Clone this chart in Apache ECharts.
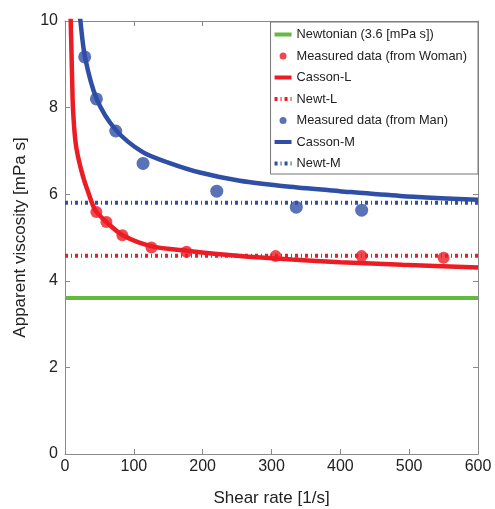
<!DOCTYPE html>
<html>
<head>
<meta charset="utf-8">
<script src="https://cdn.jsdelivr.net/npm/echarts@6/dist/echarts.min.js"></script>
<style>html,body{margin:0;padding:0;background:#fff}#c{width:495px;height:509px}</style>
</head>
<body>
<div id="c"></div>
<script>
// ---- data ----
const xTicks = [0, 100, 200, 300, 400, 500, 600];
const yTicks = [0, 2, 4, 6, 8, 10];

const newtonianValue = 3.6;
const newtLValue = 4.58;
const newtMValue = 5.8;

const womanShear = [45.6, 60.2, 83.4, 125.6, 176.5, 306, 431, 550];
const womanVisc  = [5.59, 5.36, 5.05, 4.77, 4.67, 4.57, 4.57, 4.53];

const manShear = [28.6, 45.6, 73.7, 113.4, 220.5, 336, 431];
const manVisc  = [9.17, 8.2, 7.46, 6.71, 6.07, 5.70, 5.63];

const cassonLShear = [7.5, 8.3, 9.3, 10.2, 11.6, 15, 19, 26, 33, 44, 60, 84, 125, 180, 250, 330, 400, 490, 600];
const cassonLVisc  = [10.6, 10.0, 9.37, 8.76, 7.98, 7.24, 6.86, 6.42, 6.08, 5.63, 5.36, 5.05, 4.80, 4.69, 4.58, 4.49, 4.43, 4.37, 4.31];

const cassonMShear = [20, 22.4, 29, 46, 74, 113, 150, 196, 254, 327, 399, 487, 600];
const cassonMVisc  = [10.4, 10.0, 9.17, 8.2, 7.48, 6.97, 6.73, 6.5, 6.31, 6.17, 6.07, 5.96, 5.87];

// ---- helpers ----
const zip = (xs, ys) => xs.map((x, i) => [x, ys[i]]);
const hline = v => [[xTicks[0], v], [xTicks[xTicks.length - 1], v]];

const RED = '#ec1c24', BLUE = '#2f4fa6', GREEN = '#62bb3e';
const FONT = 'Liberation Sans, Arial, Helvetica, sans-serif';
const AXC = '#8a8a8a';

const chart = echarts.init(document.getElementById('c'), null, {renderer: 'canvas'});
const dashDot = [3, 3, 1, 3];

const baseAxis = {
  type: 'value',
  axisLine: {show: true, onZero: false, lineStyle: {color: AXC, width: 1}},
  axisTick: {show: true, inside: true, length: 5, lineStyle: {color: AXC}},
  splitLine: {show: false}
};

const hideSym = {opacity: 0};

chart.setOption({
  animation: false,
  textStyle: {fontFamily: FONT},
  grid: {left: 65, right: 17, top: 21, bottom: 55, containLabel: false, outerBoundsMode: 'none'},
  xAxis: [
    Object.assign({}, baseAxis, {
      position: 'bottom', min: 0, max: 600, interval: 100,
      axisLabel: {fontSize: 16, color: '#222', margin: 5, fontFamily: FONT},
      name: 'Shear rate [1/s]', nameLocation: 'middle', nameGap: 36,
      nameTextStyle: {fontSize: 17, color: '#222', fontFamily: FONT}
    }),
    Object.assign({}, baseAxis, {
      position: 'top', min: 0, max: 600, interval: 100, axisLabel: {show: false}
    })
  ],
  yAxis: [
    Object.assign({}, baseAxis, {
      position: 'left', min: 0, max: 10, interval: 2,
      axisLabel: {fontSize: 16, color: '#222', margin: 7, fontFamily: FONT},
      name: 'Apparent viscosity [mPa s]', nameLocation: 'middle', nameGap: 31,
      nameTextStyle: {fontSize: 17, color: '#222', fontFamily: FONT}
    }),
    Object.assign({}, baseAxis, {
      position: 'right', min: 0, max: 10, interval: 2, axisLabel: {show: false}
    })
  ],
  legend: {
    orient: 'vertical', right: 17, top: 22,
    backgroundColor: '#fff', borderColor: '#777', borderWidth: 1,
    padding: [6, 11, 4, 2], itemGap: 8.5, itemWidth: 17, itemHeight: 7,
    lineStyle: {width: 4},
    textStyle: {fontSize: 12.8, color: '#222', fontFamily: FONT},
    data: [
      {name: 'Newtonian (3.6 [mPa s])', itemStyle: hideSym},
      {name: 'Measured data (from Woman)'},
      {name: 'Casson-L', itemStyle: hideSym},
      {name: 'Newt-L', itemStyle: hideSym},
      {name: 'Measured data (from Man)'},
      {name: 'Casson-M', itemStyle: hideSym},
      {name: 'Newt-M', itemStyle: hideSym}
    ]
  },
  series: [
    {name: 'Newtonian (3.6 [mPa s])', type: 'line', data: hline(newtonianValue), symbol: 'none',
     lineStyle: {color: GREEN, width: 4}, itemStyle: {color: GREEN}, z: 2},
    {name: 'Measured data (from Woman)', type: 'scatter', data: zip(womanShear, womanVisc),
     symbolSize: 12, itemStyle: {color: RED}, z: 5},
    {name: 'Casson-L', type: 'line', data: zip(cassonLShear, cassonLVisc), symbol: 'none', smooth: 0.3,
     lineStyle: {color: RED, width: 4.5}, itemStyle: {color: RED}, z: 4},
    {name: 'Newt-L', type: 'line', data: hline(newtLValue), symbol: 'none',
     lineStyle: {color: RED, width: 4, type: dashDot, cap: 'butt'}, itemStyle: {color: RED}, z: 3},
    {name: 'Measured data (from Man)', type: 'scatter', data: zip(manShear, manVisc),
     symbolSize: 13, itemStyle: {color: BLUE}, z: 5},
    {name: 'Casson-M', type: 'line', data: zip(cassonMShear, cassonMVisc), symbol: 'none', smooth: 0.3,
     lineStyle: {color: BLUE, width: 4.5}, itemStyle: {color: BLUE}, z: 4},
    {name: 'Newt-M', type: 'line', data: hline(newtMValue), symbol: 'none',
     lineStyle: {color: BLUE, width: 4, type: dashDot, cap: 'butt'}, itemStyle: {color: BLUE}, z: 3}
  ]
});
</script>
</body>
</html>
